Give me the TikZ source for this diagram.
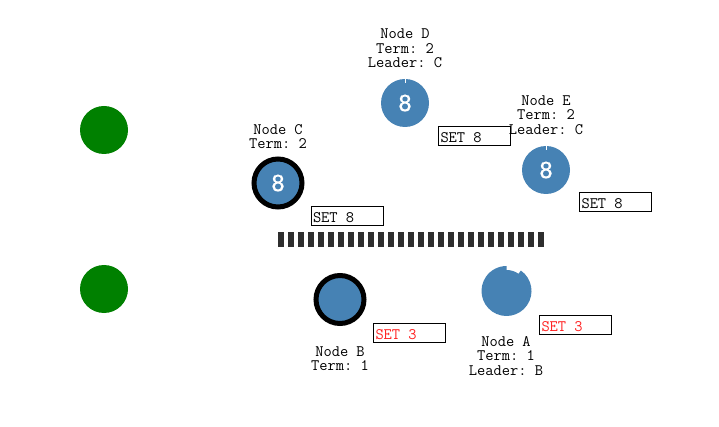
\documentclass[tikz,border=0pt]{standalone}
\usepackage{fontspec}
\newfontfamily\digitfont[FakeBold=0.8]{DejaVu Sans}
\definecolor{steel}{HTML}{4682B4}
\definecolor{grn}{HTML}{008000}
\definecolor{bar}{HTML}{2E2E2E}
\definecolor{setred}{HTML}{FF2020}
\begin{document}
\begin{tikzpicture}[x=1pt,y=-1pt,
  srv/.style={circle, fill=steel, minimum size=48pt, inner sep=0pt, text=white, font=\digitfont\fontsize{22}{22}\selectfont},
  leader/.style={srv, draw=black, line width=5pt},
  grnode/.style={circle, fill=grn, minimum size=48pt, inner sep=0pt},
  lbl/.style={align=center, inner sep=0pt, font=\ttfamily\frenchspacing\fontsize{16}{14.5}\selectfont},
  setbox/.style={draw=black, line width=1pt, minimum height=19pt, minimum width=72pt, inner xsep=2pt, inner ysep=0pt, text height=13pt, text depth=0pt, font=\ttfamily\frenchspacing\fontsize{16}{16}\selectfont},
  partition/.style={line width=15pt, dash pattern=on 6pt off 4pt, draw=bar}
]
\useasboundingbox (0,0) rectangle (719,427);
\fill[white] (0,0) rectangle (719,427);

% outside nodes
\node[grnode] (g1) at (104,130) {};
\node[grnode] (g2) at (104,289) {};

% partition
\coordinate (p1) at (278,240);
\coordinate (p2) at (544,240);
\draw[partition] (p1) -- (p2);

% servers
\node[leader] (C) at (278,183) {8};
\node[srv] (D) at (405,103) {8};
\draw[white, line width=0.6pt] (D.north) -- ++(0,4);
\node[srv] (E) at (546,170) {8};
\draw[white, line width=0.6pt] (E.north) -- ++(0,4);
\node[leader] (B) at (340,299.5) {};
\coordinate (A) at (506.5,291);
\fill[steel] ([shift={(305:25)}]A) arc[start angle=305, end angle=630, radius=25]
  -- ([shift={(270:21)}]A) arc[start angle=270, end angle=305, radius=21] -- cycle;

% labels
\node[lbl] (lC) at (278,136.5) {Node C\\Term: 2};
\node[lbl] (lD) at (405,48.5) {Node D\\Term: 2\\Leader: C};
\node[lbl] (lE) at (546,115) {Node E\\Term: 2\\Leader: C};
\node[lbl] (lB) at (340,358.5) {Node B\\Term: 1};
\node[lbl] (lA) at (506,356) {Node A\\Term: 1\\Leader: B};

% messages
\node[setbox] (sC) at (347,216.5) {\hbox to 68pt{SET 8\hfil}};
\node[setbox] (sD) at (474.5,136.5) {\hbox to 68pt{SET 8\hfil}};
\node[setbox] (sE) at (615.5,202.5) {\hbox to 68pt{SET 8\hfil}};
\node[setbox, text=setred] (sB) at (409.5,332.5) {\hbox to 68pt{SET 3\hfil}};
\node[setbox, text=setred] (sA) at (575.5,324.5) {\hbox to 68pt{SET 3\hfil}};
\end{tikzpicture}
\end{document}
